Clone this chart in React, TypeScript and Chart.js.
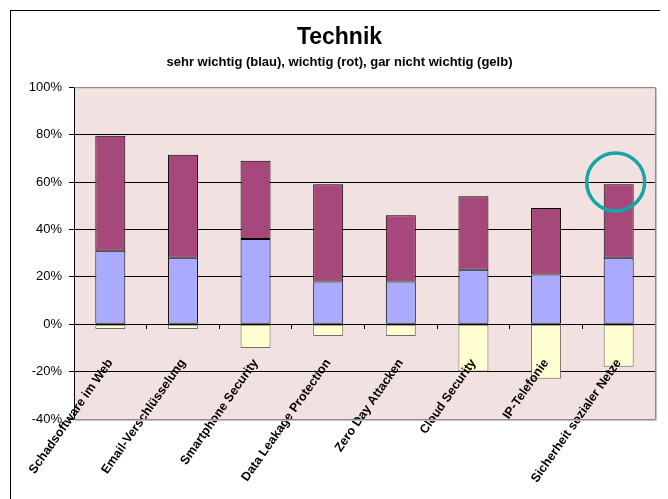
import React, { useEffect, useRef } from "react";
import { Chart, registerables } from "chart.js";

Chart.register(...registerables);

const categories = [
  "Schadsoftware im Web",
  "Email-Verschlüsselung",
  "Smartphone Security",
  "Data Leakage Protection",
  "Zero Day Attacken",
  "Cloud Security",
  "IP-Telefonie",
  "Sicherheit sozialer Netze",
];
const sehrWichtig = [31, 28, 36, 18, 18, 23, 21, 28];
const wichtig = [48.5, 43.5, 33, 41, 28, 31, 28, 31];
const garNichtWichtig = [-2, -2, -10, -5, -5, -20, -23, -18];
const yTicks = [-40, -20, 0, 20, 40, 60, 80, 100];
const highlightIndex = 7;
const highlightValue = 60;

const FONT = "'Liberation Sans', Arial, sans-serif";

const bgPlugin = {
  id: "bgPlugin",
  beforeDraw(chart: any) {
    const { ctx, chartArea } = chart;
    ctx.save();
    ctx.fillStyle = "#F2E1E1";
    ctx.fillRect(chartArea.left, chartArea.top, chartArea.right - chartArea.left, chartArea.bottom - chartArea.top);
    ctx.restore();
  },
  afterDraw(chart: any) {
    const { ctx, chartArea, scales } = chart;
    ctx.save();
    ctx.strokeStyle = "#8C8C8C";
    ctx.lineWidth = 1;
    ctx.beginPath();
    ctx.moveTo(chartArea.left, chartArea.top + 0.5);
    ctx.lineTo(chartArea.right + 0.5, chartArea.top + 0.5);
    ctx.lineTo(chartArea.right + 0.5, chartArea.bottom + 0.5);
    ctx.lineTo(chartArea.left, chartArea.bottom + 0.5);
    ctx.stroke();
    ctx.strokeStyle = "#C8C0C0";
    ctx.beginPath();
    ctx.moveTo(chartArea.right + 1.5, chartArea.top + 1);
    ctx.lineTo(chartArea.right + 1.5, chartArea.bottom + 1.5);
    ctx.lineTo(chartArea.left + 1, chartArea.bottom + 1.5);
    ctx.stroke();
    const cx = scales.x.getPixelForValue(highlightIndex) - 3;
    const cy = scales.y.getPixelForValue(highlightValue);
    ctx.strokeStyle = "#14A5A5";
    ctx.lineWidth = 3.5;
    ctx.beginPath();
    ctx.arc(cx, cy, 29, 0, Math.PI * 2);
    ctx.stroke();
    ctx.restore();
  },
};

export default function App() {
  const canvasRef = useRef<HTMLCanvasElement | null>(null);

  useEffect(() => {
    document.documentElement.style.overflow = "hidden";
    const canvas = canvasRef.current;
    if (!canvas) return;
    const chart = new Chart(canvas, {
      type: "bar",
      data: {
        labels: categories,
        datasets: [
          {
            label: "sehr wichtig",
            data: sehrWichtig,
            backgroundColor: "#AAAAFF",
            borderColor: "#000000",
            borderWidth: 1,
            borderSkipped: false,
          },
          {
            label: "wichtig",
            data: wichtig,
            backgroundColor: "#A6497A",
            borderColor: "#000000",
            borderWidth: 1,
            borderSkipped: false,
          },
          {
            label: "gar nicht wichtig",
            data: garNichtWichtig,
            backgroundColor: "#FFFFD2",
            borderColor: "#6E6E6E",
            borderWidth: 1,
            borderSkipped: false,
          },
        ],
      },
      options: {
        responsive: false,
        animation: false,
        devicePixelRatio: 1,
        datasets: {
          bar: { categoryPercentage: 1, barPercentage: 0.413 },
        },
        layout: { padding: { left: 6, right: 13, top: 0, bottom: 80 } },
        plugins: {
          legend: { display: false },
          tooltip: { enabled: false },
          title: {
            display: true,
            text: "Technik",
            color: "#000",
            font: { family: FONT, size: 23, weight: "bold", lineHeight: 1.2 },
            padding: { top: 16, bottom: 3 },
          },
          subtitle: {
            display: true,
            text: "sehr wichtig (blau), wichtig (rot), gar nicht wichtig (gelb)",
            color: "#000",
            font: { family: FONT, size: 13, weight: "bold", lineHeight: 1.2 },
            padding: { top: 0, bottom: 17 },
          },
        },
        scales: {
          x: {
            type: "category",
            stacked: true,
            offset: true,
            position: { y: 0 } as any,
            grid: {
              display: true,
              drawOnChartArea: false,
              drawTicks: true,
              tickLength: 4,
              color: "#000",
              offset: true,
            },
            border: { display: true, color: "#000", width: 1 },
            ticks: {
              autoSkip: false,
              minRotation: 55,
              maxRotation: 55,
              padding: 28,
              color: "#000",
              font: { family: FONT, size: 12.5, weight: "bold" },
              z: 1,
            },
            afterFit: (s: any) => {
              s.paddingLeft = 0;
              s.paddingRight = 0;
            },
          } as any,
          y: {
            stacked: true,
            min: yTicks[0],
            max: yTicks[yTicks.length - 1],
            afterBuildTicks: (s: any) => {
              s.ticks = yTicks.map((v) => ({ value: v }));
            },
            afterFit: (s: any) => {
              s.width = 50;
            },
            grid: {
              color: (c: any) =>
                c.tick && (c.tick.value === 100 || c.tick.value === -40) ? "#8C8C8C" : "#000",
              lineWidth: 1,
              tickLength: 5,
              tickColor: "#000",
            },
            border: { display: true, color: "#000", width: 1 },
            ticks: {
              padding: 7,
              color: "#000",
              font: { family: FONT, size: 13 },
              callback: (v: any) => v + "%",
            },
          },
        },
      },
      plugins: [bgPlugin],
    });
    return () => chart.destroy();
  }, []);

  return (
    <div style={{ position: "relative", width: 660, height: 491, overflow: "hidden" }}>
      <div
        style={{
          position: "absolute",
          left: 2,
          top: 2,
          width: 900,
          height: 900,
          border: "1px solid #000",
        }}
      />
      <canvas
        ref={canvasRef}
        width={650}
        height={491}
        style={{ position: "absolute", left: 10, top: 0, width: 650, height: 491 }}
      />
    </div>
  );
}
